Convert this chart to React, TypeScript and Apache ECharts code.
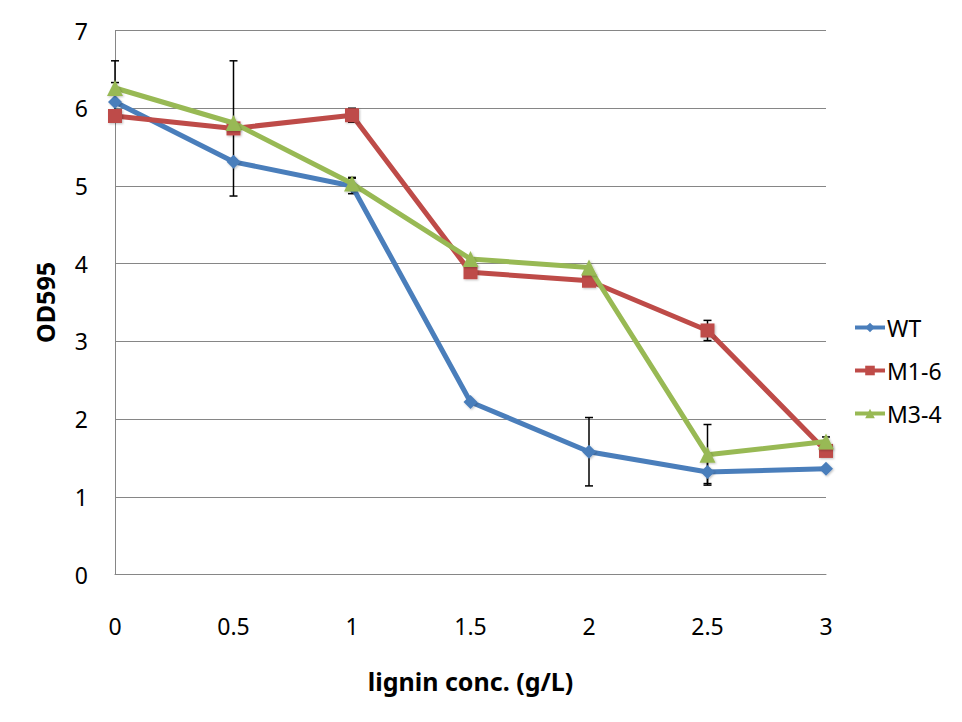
import React, { useEffect, useRef } from "react";
import * as echarts from "echarts";

const categories = ["0", "0.5", "1", "1.5", "2", "2.5", "3"];
const seriesNames = ["WT", "M1-6", "M3-4"];
const wtValues = [6.08, 5.31, 5.0, 2.22, 1.58, 1.32, 1.36];
const m16Values = [5.9, 5.74, 5.91, 3.89, 3.78, 3.14, 1.59];
const m34Values = [6.26, 5.81, 5.03, 4.06, 3.95, 1.54, 1.71];
const wtErr = [0.25, 0, 0.1, 0, 0.44, 0.15, 0];
const m16Err = [0, 0.87, 0.09, 0, 0, 0.13, 0];
const m34Err = [0.35, 0, 0.08, 0, 0, 0.39, 0.06];
const yTicks = [0, 1, 2, 3, 4, 5, 6, 7];

const colors = ["#4A7EBB", "#BE4B48", "#98B954"];
const symbols = ["diamond", "rect", "triangle"];
const symbolSizes = [14, 14, 16];
const FONT = "Noto Sans";

export default function App() {
  const ref = useRef<HTMLDivElement>(null);
  useEffect(() => {
    if (!ref.current) return;
    const chart = echarts.init(ref.current, undefined, { renderer: "svg" });
    const values = [wtValues, m16Values, m34Values];
    const errs = [wtErr, m16Err, m34Err];
    const errData: number[][] = [];
    values.forEach((vals, s) => {
      vals.forEach((v, i) => {
        const e = errs[s][i];
        if (e > 0) errData.push([i, v - e, v + e]);
      });
    });
    const lineSeries = values.map((vals, s) => ({
      type: "line",
      name: seriesNames[s],
      data: vals,
      symbol: symbols[s],
      symbolSize: symbolSizes[s],
      showAllSymbol: true,
      lineStyle: { color: colors[s], width: 5 },
      itemStyle: { color: colors[s], shadowColor: "rgba(0,0,0,0.25)", shadowBlur: 2, shadowOffsetX: 1, shadowOffsetY: 1 },
      z: 3 + s,
    }));
    chart.setOption({
      animation: false,
      backgroundColor: "#ffffff",
      textStyle: { fontFamily: FONT },
      grid: { left: 115, right: 136, top: 30.5, bottom: 147.5, containLabel: false },
      legend: {
        orient: "vertical",
        left: 848,
        top: 311,
        itemGap: 20,
        itemWidth: 30,
        itemHeight: 12,
        data: seriesNames,
        itemStyle: { borderWidth: 0 },
        lineStyle: { width: 4 },
        textStyle: { fontSize: 23, color: "#000", fontFamily: FONT, padding: [0, 0, 0, -3] },
      },
      xAxis: {
        type: "category",
        data: categories,
        boundaryGap: false,
        name: "lignin conc. (g/L)",
        nameLocation: "middle",
        nameGap: 94,
        nameTextStyle: { fontSize: 25, fontWeight: "bold", color: "#000", fontFamily: FONT },
        axisLine: { lineStyle: { color: "#868686", width: 1 } },
        axisTick: { show: false },
        axisLabel: { fontSize: 23, color: "#000", margin: 40, fontFamily: FONT },
        splitLine: { show: false },
      },
      yAxis: {
        type: "value",
        min: yTicks[0],
        max: yTicks[yTicks.length - 1],
        interval: 1,
        name: "OD595",
        nameLocation: "middle",
        nameGap: 58,
        nameRotate: 90,
        nameTextStyle: { fontSize: 25, fontWeight: "bold", color: "#000", fontFamily: FONT },
        axisLine: { show: true, lineStyle: { color: "#868686", width: 1 } },
        axisTick: { show: false },
        axisLabel: { fontSize: 23, color: "#000", margin: 27, fontFamily: FONT },
        splitLine: { lineStyle: { color: "#868686", width: 1 } },
      },
      series: [
        {
          type: "custom",
          name: "err",
          data: errData,
          z: 2,
          silent: true,
          renderItem: (params: any, api: any) => {
            const x = api.value(0);
            const lo = api.coord([x, api.value(1)]);
            const hi = api.coord([x, api.value(2)]);
            const w = 4;
            const style = { stroke: "#000", lineWidth: 1.5 };
            return {
              type: "group",
              children: [
                { type: "line", shape: { x1: lo[0], y1: lo[1], x2: hi[0], y2: hi[1] }, style },
                { type: "line", shape: { x1: lo[0] - w, y1: lo[1], x2: lo[0] + w, y2: lo[1] }, style },
                { type: "line", shape: { x1: hi[0] - w, y1: hi[1], x2: hi[0] + w, y2: hi[1] }, style },
              ],
            };
          },
        },
        ...lineSeries,
      ],
    });
    return () => chart.dispose();
  }, []);
  return <div ref={ref} style={{ width: 962, height: 722, position: "absolute", left: 0, top: 0 }} />;
}
